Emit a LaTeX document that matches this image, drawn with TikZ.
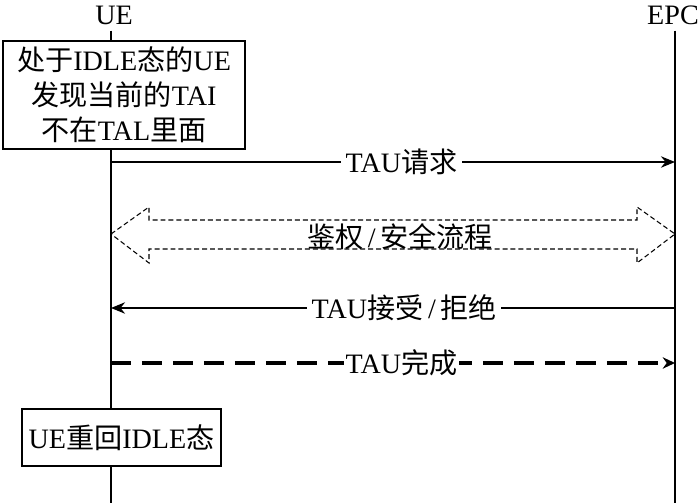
\documentclass[tikz,border=0pt]{standalone}
\usepackage{fontspec}
\setmainfont{Liberation Serif}
\newfontfamily\cjk{Noto Sans CJK SC}
\usetikzlibrary{arrows.meta}

\begin{document}
\begin{tikzpicture}[x=0.02cm,y=-0.02cm,
  every node/.style={font=\fontsize{16}{19.8}\selectfont},
  life/.style={line width=0.8pt},
  msg/.style={line width=0.8pt,-{Stealth[length=8pt,width=6.5pt]}},
  msgdash/.style={line width=2pt,dash pattern=on 0.4cm off 0.22cm,-{Stealth[length=7pt,width=6.5pt]}},
  msglabel/.style={pos=0.515,fill=white,inner sep=2.5pt},
  authbox/.style={line width=0.6pt,dash pattern=on 2.8pt off 1.7pt},
  statebox/.style={draw,fill=white,line width=0.8pt,align=center,inner sep=2pt}]
  \useasboundingbox (0,0) rectangle (700,503);

  \node (ue) at (114,15) {UE};
  \node (epc) at (673,15) {EPC};
  \coordinate (ueEnd) at (111,503);
  \coordinate (epcEnd) at (675,503);

  \draw[life] (ue.south -| ueEnd) -- (ueEnd);
  \draw[life] (epc.south -| epcEnd) -- (epcEnd);

  \node[statebox,minimum width=4.84cm,minimum height=2.16cm] (idle) at (124,95)
    {{\cjk 处于}IDLE{\cjk 态的}UE\\{\cjk 发现当前的}TAI\\{\cjk 不在}TAL{\cjk 里面}};

  \coordinate (tauReq) at (0,162);
  \coordinate (auth) at (0,234);
  \coordinate (tauAcc) at (0,308);
  \coordinate (tauCmp) at (0,363);

  \draw[msg] (ueEnd |- tauReq) -- (epcEnd |- tauReq) node[msglabel] {TAU{\cjk 请求}};

  \draw[authbox] (ueEnd |- auth) -- ++(38,-27) -- ++(0,13) -- ++(488,0) -- ++(0,-13)
    -- ++(38,27) -- ++(-38,29) -- ++(0,-14) -- ++(-488,0) -- ++(0,14) -- cycle;
  \node (authLabel) at (400,237) {{\cjk 鉴权}\,/\,{\cjk 安全流程}};

  \draw[msg] (epcEnd |- tauAcc) -- (ueEnd |- tauAcc) node[msglabel,pos=0.48] {TAU{\cjk 接受}\,/\,{\cjk 拒绝}};
  \draw[msgdash] (ueEnd |- tauCmp) -- (epcEnd |- tauCmp) node[msglabel,inner sep=1pt] {TAU{\cjk 完成}};

  \node[statebox,minimum width=3.98cm,minimum height=1.14cm] (back) at (121.5,437.5) {UE{\cjk 重回}IDLE{\cjk 态}};
\end{tikzpicture}
\end{document}
